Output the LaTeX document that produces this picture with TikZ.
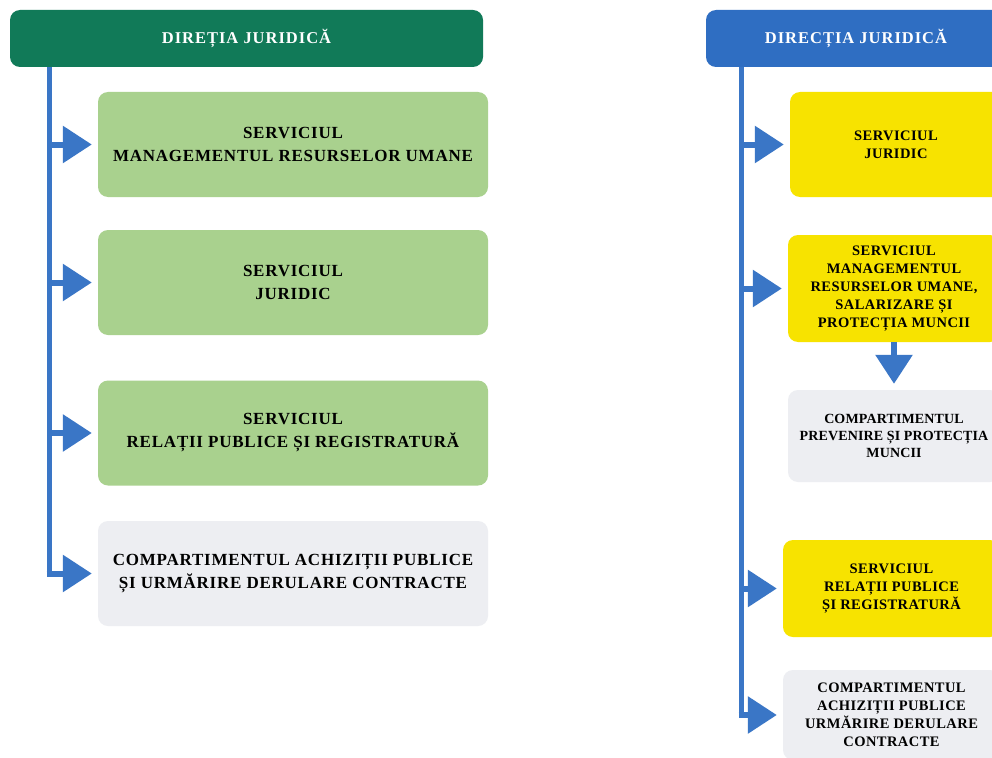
\documentclass[tikz,border=0pt]{standalone}
\usepackage{fontspec}
\setmainfont{Liberation Serif}
\newfontfamily\spacedA[LetterSpace=6]{Liberation Serif}
\newfontfamily\spacedB[LetterSpace=4.5]{Liberation Serif}
\newfontfamily\spacedC[LetterSpace=3]{Liberation Serif}
\newfontfamily\spacedD[LetterSpace=1]{Liberation Serif}
\usetikzlibrary{arrows.meta}
\definecolor{hdrgreen}{HTML}{117A58}
\definecolor{hdrblue}{HTML}{2F6EC2}
\definecolor{lgreen}{HTML}{A9D18E}
\definecolor{lgray}{HTML}{EDEEF2}
\definecolor{yel}{HTML}{F7E300}
\definecolor{arrblue}{HTML}{3A76C6}
\begin{document}
\begin{tikzpicture}[x=1pt,y=-1pt,
  hdr/.style={rounded corners=10pt, minimum height=57pt, inner sep=0pt, text=white,
    font=\spacedA\bfseries\fontsize{16.5}{18}\selectfont},
  lbox/.style={rounded corners=10pt, minimum width=390pt, minimum height=105pt, inner sep=0pt,
    align=center, font=\spacedB\bfseries\fontsize{17}{23}\selectfont},
  rbox/.style={rounded corners=10pt, inner sep=0pt, align=center,
    font=\spacedC\bfseries\fontsize{14.5}{18}\selectfont},
  trunk/.style={draw=arrblue, line width=5pt},
  branch/.style={draw=arrblue, line width=6pt, shorten >=6pt,
    -{Triangle[length=29pt,width=36pt]}},
  ]
\useasboundingbox (0,0) rectangle (992,757);
\fill[white] (0,0) rectangle (992,757);
% ---------- left diagram ----------
\node[hdr, fill=hdrgreen, minimum width=473pt] (hL) at (246.5,38.5) {DIREȚIA JURIDICĂ};
\node[lbox, fill=lgreen] (l1) at (293,144.5) {SERVICIUL\\MANAGEMENTUL RESURSELOR UMANE};
\node[lbox, fill=lgreen] (l2) at (293,282.5) {SERVICIUL\\JURIDIC};
\node[lbox, fill=lgreen] (l3) at (293,433) {SERVICIUL\\RELAȚII PUBLICE ȘI REGISTRATURĂ};
\node[lbox, fill=lgray] (l4) at (293,573.5) {COMPARTIMENTUL ACHIZIȚII PUBLICE\\ȘI URMĂRIRE DERULARE CONTRACTE};
\coordinate (tL) at (49,67);
\draw[trunk] (tL) -- (tL |- l4.west);
\draw[branch] (tL |- l1.west) -- (l1.west);
\draw[branch] (tL |- l2.west) -- (l2.west);
\draw[branch] (tL |- l3.west) -- (l3.west);
\draw[branch] ([xshift=-2.5pt]tL |- l4.west) -- (l4.west);
% ---------- right diagram ----------
\node[hdr, fill=hdrblue, minimum width=300pt] (hR) at (856,38.5) {DIRECȚIA JURIDICĂ};
\node[rbox, fill=yel, minimum width=212pt, minimum height=105pt] (r1) at (896,144.5) {SERVICIUL\\JURIDIC};
\node[rbox, fill=yel, minimum width=212pt, minimum height=107pt] (r2) at (894,288.5) {SERVICIUL\\MANAGEMENTUL\\RESURSELOR UMANE,\\SALARIZARE ȘI\\PROTECȚIA MUNCII};
\node[rbox, fill=lgray, minimum width=212pt, minimum height=92pt,
  font=\spacedD\bfseries\fontsize{14}{17}\selectfont] (r3) at (894,436) {COMPARTIMENTUL\\PREVENIRE ȘI PROTECȚIA\\MUNCII};
\node[rbox, fill=yel, minimum width=217pt, minimum height=97pt] (r4) at (891.5,588.5) {SERVICIUL\\RELAȚII PUBLICE\\ȘI REGISTRATURĂ};
\node[rbox, fill=lgray, minimum width=217pt, minimum height=90pt] (r5) at (891.5,715) {COMPARTIMENTUL\\ACHIZIȚII PUBLICE\\URMĂRIRE DERULARE\\CONTRACTE};
\coordinate (tR) at (741,67);
\draw[trunk] (tR) -- ([yshift=2.5pt]tR |- r5.west);
\draw[branch] (tR |- r1.west) -- (r1.west);
\draw[branch] (tR |- r2.west) -- (r2.west);
\draw[branch] (tR |- r4.west) -- (r4.west);
\draw[branch] ([xshift=-2.5pt]tR |- r5.west) -- (r5.west);
\draw[branch] (r2.south) -- (r3.north);
\end{tikzpicture}
\end{document}
